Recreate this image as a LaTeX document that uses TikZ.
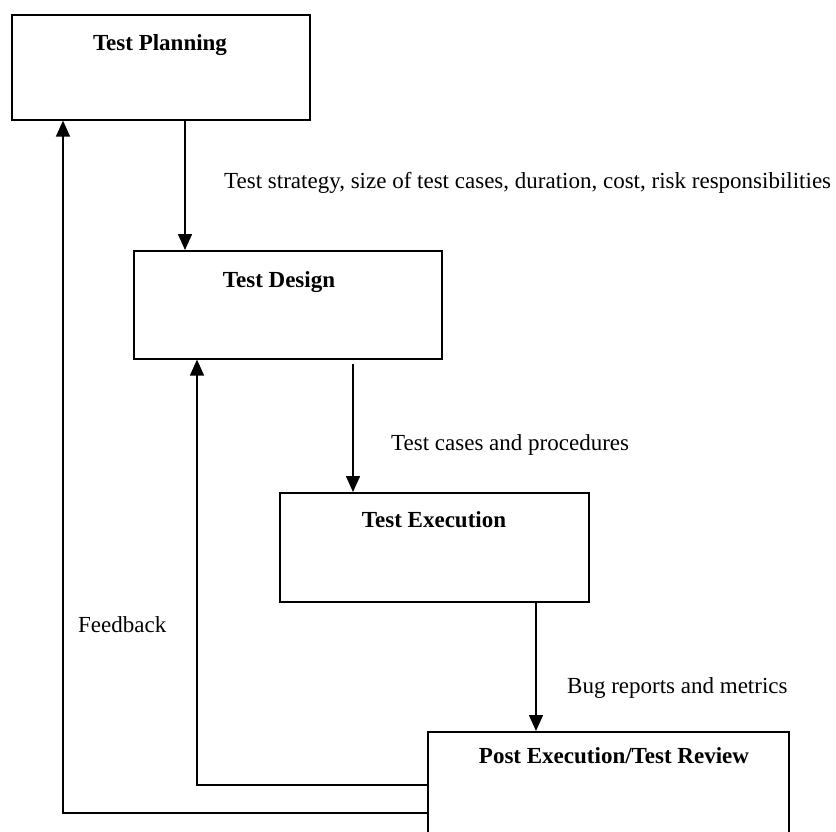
\documentclass[tikz,border=0pt]{standalone}
\usepackage{fontspec}
\setmainfont{Liberation Serif}
\usetikzlibrary{arrows.meta}
\begin{document}
\begin{tikzpicture}[x=1pt,y=-1pt,
  stage/.style={draw, line width=1.6pt, rectangle, anchor=north west, inner sep=0pt},
  title/.style={font=\fontsize{23}{27}\selectfont\bfseries, inner sep=0pt, anchor=base},
  note/.style={font=\fontsize{23}{27}\selectfont, inner sep=0pt, anchor=base west},
  flow/.style={line width=1.5pt, -{Triangle[length=16pt,width=14pt]}},
  back/.style={line width=1.6pt, -{Triangle[length=16pt,width=14pt]}}]
\useasboundingbox (0,0) rectangle (836,831);
\clip (0,0) rectangle (836,831);

% stage boxes
\node[stage, minimum width=298pt, minimum height=105pt] (tp) at (11,14) {};
\node[stage, minimum width=308pt, minimum height=108pt] (td) at (133,250) {};
\node[stage, minimum width=309pt, minimum height=109pt] (te) at (279,492) {};
\node[stage, minimum width=361pt, minimum height=140pt] (pe) at (427,731) {};

% stage titles
\node[title] (tpt) at (160,50) {Test Planning};
\node[title] (tdt) at (279,287) {Test Design};
\node[title] (tet) at (434,527) {Test Execution};
\node[title] (pet) at (614,763) {Post Execution/Test Review};

% forward flow
\coordinate (a1) at (185,0);
\coordinate (a2) at (353,0);
\coordinate (a3) at (536,0);
\draw[flow] (a1 |- tp.south) -- (a1 |- td.north);
\draw[flow] ([yshift=-4pt]a2 |- td.south) -- (a2 |- te.north);
\draw[flow] (a3 |- te.south) -- (a3 |- pe.north);

% feedback loops
\coordinate (fbo) at (63,813);
\coordinate (fbi) at (197,785);
\draw[back] (pe.west |- fbo) -- (fbo) -- (fbo |- tp.south);
\draw[back] (pe.west |- fbi) -- (fbi) -- (fbi |- td.south);

% flow labels
\node[note] (l1) at (224,188) {Test strategy, size of test cases, duration, cost, risk responsibilities};
\node[note] (l2) at (391,450) {Test cases and procedures};
\node[note] (l3) at (567,693) {Bug reports and metrics};
\node[note] (l4) at (78,632) {Feedback};
\end{tikzpicture}
\end{document}
